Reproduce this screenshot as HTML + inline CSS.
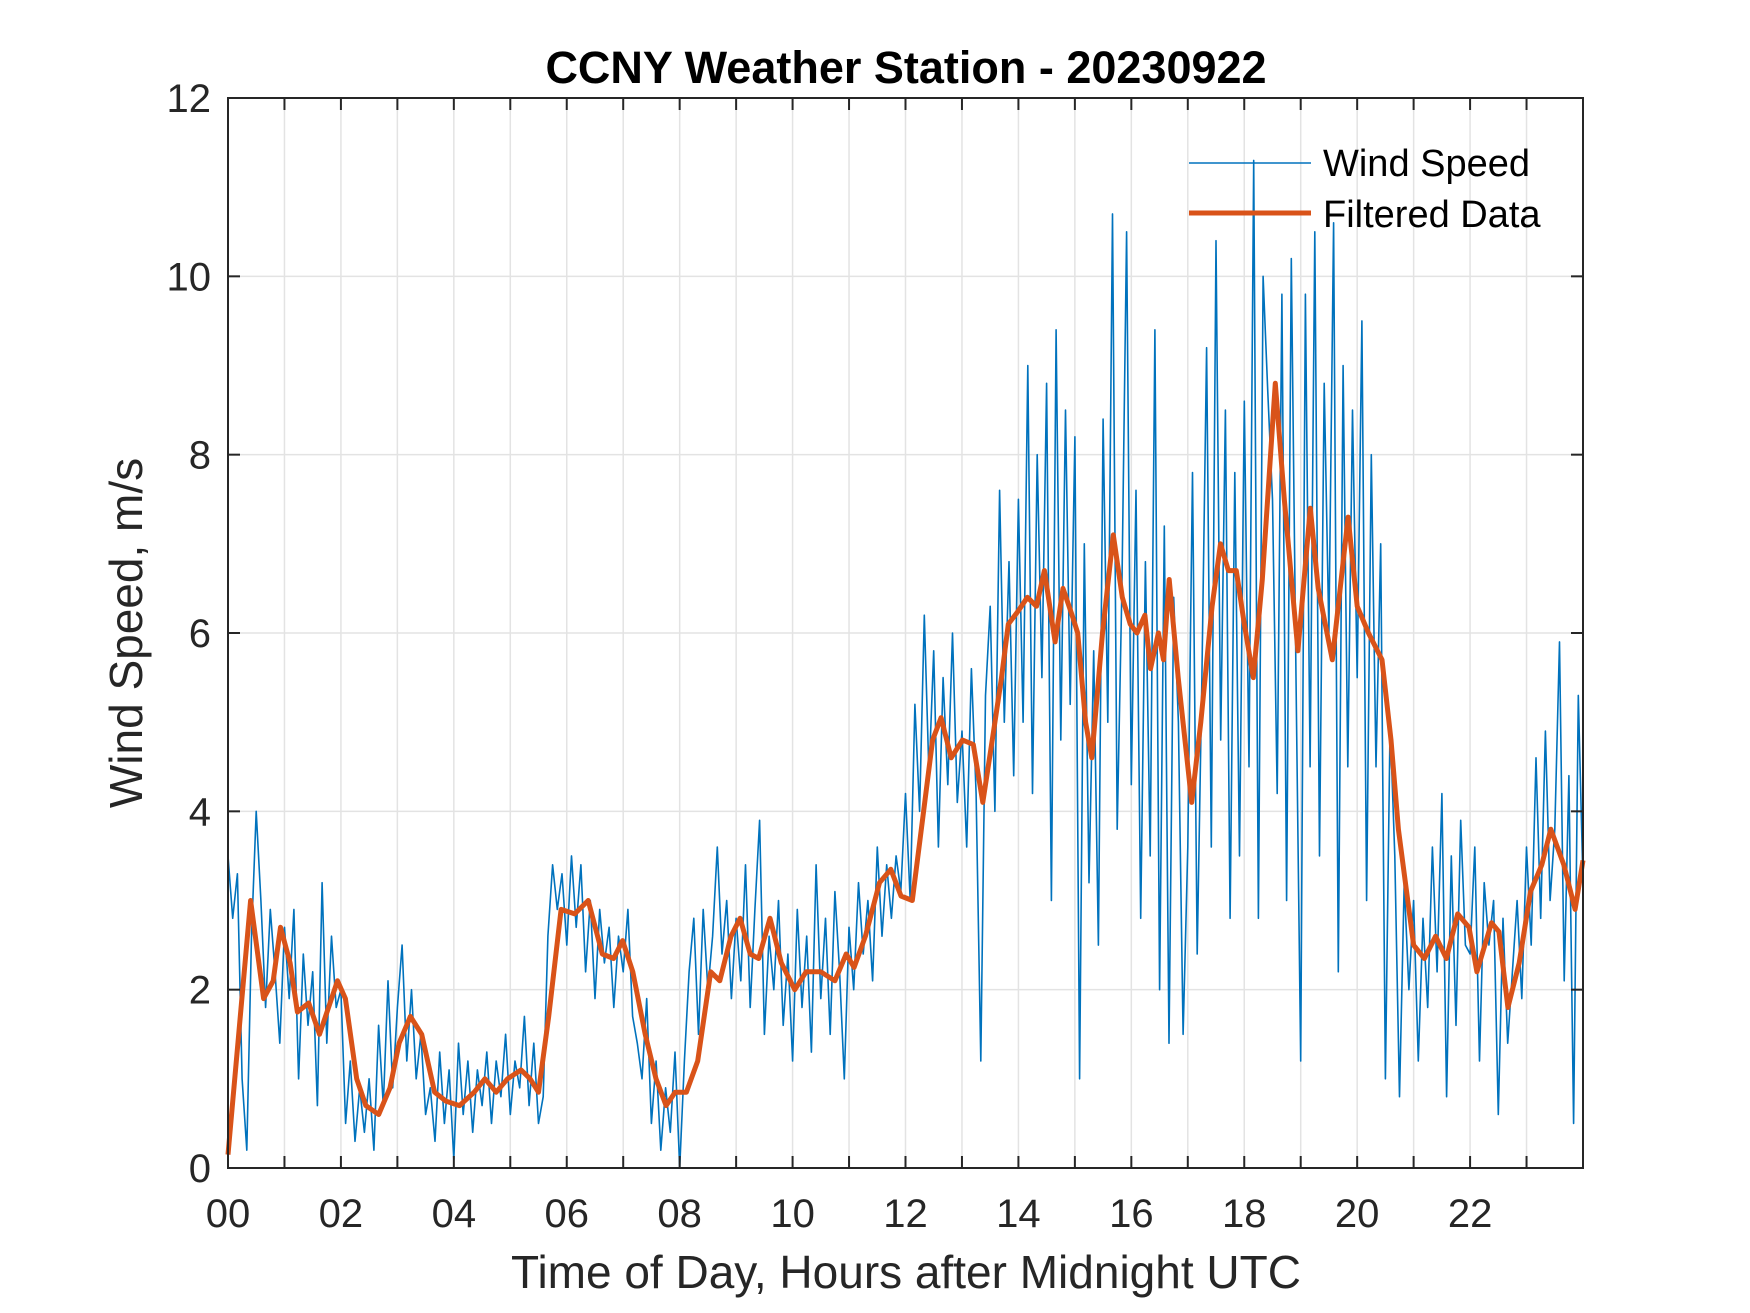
<!DOCTYPE html>
<html><head><meta charset="utf-8"><style>
html,body{margin:0;padding:0;background:#fff;}
svg{display:block;font-family:"Liberation Sans",Arial,sans-serif;}
</style></head><body>
<svg id="chart" width="1750" height="1313" viewBox="0 0 1750 1313" xmlns="http://www.w3.org/2000/svg">
<rect width="1750" height="1313" fill="#fff"/>
<g id="grid"></g>
<g id="plot"></g>
<rect x="228" y="98" width="1355" height="1070" fill="none" stroke="#262626" stroke-width="2"/>
<g id="ticks"></g>
<text x="906" y="83" text-anchor="middle" font-size="45" font-weight="bold" fill="#000">CCNY Weather Station - 20230922</text>
<text x="906" y="1288" text-anchor="middle" font-size="46" fill="#262626">Time of Day, Hours after Midnight UTC</text>
<text transform="translate(142,633) rotate(-90)" text-anchor="middle" font-size="46" fill="#262626">Wind Speed, m/s</text>
<g>
<line x1="1189" y1="163" x2="1311" y2="163" stroke="#0072BD" stroke-width="1.6"/>
<text x="1323" y="176" font-size="38" fill="#000">Wind Speed</text>
<line x1="1189" y1="213" x2="1311" y2="213" stroke="#D95319" stroke-width="5"/>
<text x="1323" y="227" font-size="38" fill="#000">Filtered Data</text>
</g>
</svg>
<script>
const xTickLabels = ["00","02","04","06","08","10","12","14","16","18","20","22"];
const yTickValues = [0,2,4,6,8,10,12];
// raw wind speed, sampled every 5 minutes (12 per hour), plus final value at 24h
const windSpeed = [
3.5,2.8,3.3,1.0,0.2,2.6,4.0,3.0,1.8,2.9,2.2,1.4,
2.7,1.9,2.9,1.0,2.4,1.6,2.2,0.7,3.2,1.4,2.6,1.8,
2.0,0.5,1.2,0.3,0.9,0.4,1.0,0.2,1.6,0.7,2.1,0.9,
1.8,2.5,1.2,2.0,1.0,1.5,0.6,0.9,0.3,1.3,0.5,1.1,
0.1,1.4,0.6,1.2,0.4,1.1,0.7,1.3,0.5,1.2,0.8,1.5,
0.6,1.2,0.9,1.7,0.7,1.4,0.5,0.8,2.6,3.4,2.9,3.3,
2.5,3.5,2.7,3.4,2.2,3.0,1.9,2.9,2.3,2.7,1.8,2.6,
2.2,2.9,1.7,1.4,1.0,1.9,0.5,1.2,0.2,0.9,0.4,1.3,
0.0,1.2,2.2,2.8,1.5,2.9,2.0,2.6,3.6,2.4,3.0,1.9,
2.8,2.1,3.4,1.8,2.9,3.9,1.5,2.6,2.0,3.0,1.6,2.4,
1.2,2.9,1.8,2.6,1.3,3.4,1.9,2.8,1.5,3.1,2.2,1.0,
2.7,2.0,3.2,2.4,3.0,2.1,3.6,2.6,3.4,2.8,3.5,3.1,
4.2,3.0,5.2,4.0,6.2,4.4,5.8,3.6,5.5,4.3,6.0,4.1,
4.9,3.6,5.6,4.2,1.2,5.3,6.3,4.0,7.6,5.0,6.8,4.4,
7.5,5.0,9.0,4.2,8.0,5.5,8.8,3.0,9.4,4.8,8.5,5.2,
8.2,1.0,7.0,3.2,5.8,2.5,8.4,5.0,10.7,3.8,6.5,10.5,
4.3,7.6,2.8,6.8,3.5,9.4,2.0,7.2,1.4,6.4,5.0,1.5,
3.6,7.8,2.4,5.5,9.2,3.6,10.4,4.8,8.5,2.8,7.8,3.5,
8.6,4.5,11.3,2.8,10.0,8.7,7.5,4.2,9.8,3.0,10.2,5.5,
1.2,9.8,4.5,10.5,3.5,8.8,6.0,10.6,2.2,9.0,4.5,8.5,
5.5,9.5,3.0,8.0,4.5,7.0,1.0,5.0,3.5,0.8,3.2,2.0,
3.0,1.2,2.8,1.8,3.6,2.2,4.2,0.8,3.5,1.6,3.9,2.5,
2.4,3.6,1.2,3.2,2.5,3.0,0.6,2.8,1.4,2.2,3.0,1.9,
3.6,2.5,4.6,2.8,4.9,3.0,3.8,5.9,2.1,4.4,0.5,5.3,
3.2];
const filteredHours = [0,0.4,0.63,0.8,0.93,1.1,1.23,1.43,1.62,1.94,2.08,2.28,2.44,2.67,2.87,3.03,3.23,3.43,3.66,3.86,4.1,4.36,4.55,4.75,4.95,5.19,5.35,5.5,5.68,5.9,6.14,6.38,6.63,6.83,6.99,7.17,7.39,7.58,7.76,7.92,8.12,8.32,8.55,8.71,8.91,9.07,9.25,9.4,9.6,9.8,10.04,10.24,10.5,10.75,10.95,11.09,11.29,11.54,11.74,11.92,12.12,12.32,12.48,12.63,12.81,13.01,13.2,13.37,13.56,13.7,13.82,14.0,14.16,14.32,14.46,14.65,14.79,14.95,15.05,15.19,15.3,15.49,15.68,15.84,15.98,16.1,16.24,16.34,16.48,16.57,16.67,16.83,17.07,17.23,17.43,17.58,17.72,17.86,18.0,18.16,18.32,18.55,18.71,18.95,19.17,19.31,19.56,19.84,20.0,20.2,20.44,20.6,20.73,21.0,21.19,21.39,21.58,21.78,21.98,22.12,22.38,22.51,22.67,22.87,23.07,23.27,23.43,23.66,23.86,24.0];
const filteredValues = [0.15,3.0,1.9,2.1,2.7,2.3,1.75,1.85,1.5,2.1,1.9,1.0,0.7,0.6,0.9,1.4,1.7,1.5,0.85,0.75,0.7,0.85,1.0,0.85,1.0,1.1,1.0,0.85,1.7,2.9,2.85,3.0,2.4,2.35,2.55,2.2,1.5,1.0,0.7,0.85,0.85,1.2,2.2,2.1,2.6,2.8,2.4,2.35,2.8,2.3,2.0,2.2,2.2,2.1,2.4,2.25,2.6,3.2,3.35,3.05,3.0,4.0,4.8,5.05,4.6,4.8,4.75,4.1,4.9,5.5,6.1,6.25,6.4,6.3,6.7,5.9,6.5,6.2,6.0,5.0,4.6,6.0,7.1,6.4,6.1,6.0,6.2,5.6,6.0,5.7,6.6,5.5,4.1,5.0,6.3,7.0,6.7,6.7,6.1,5.5,6.6,8.8,7.5,5.8,7.4,6.5,5.7,7.3,6.3,6.0,5.7,4.8,3.8,2.5,2.35,2.6,2.35,2.85,2.7,2.2,2.75,2.65,1.8,2.3,3.1,3.4,3.8,3.4,2.9,3.45];

const X0=228, X1=1583, Y0=1168, Y1=98;
const xScale = h => X0 + (X1-X0)*h/24;
const yScale = v => Y0 - (Y0-Y1)*v/12;
const NS="http://www.w3.org/2000/svg";
function mk(tag, attrs, parent){const e=document.createElementNS(NS,tag);for(const k in attrs)e.setAttribute(k,attrs[k]);parent.appendChild(e);return e;}
const grid=document.getElementById('grid'), plot=document.getElementById('plot'), ticks=document.getElementById('ticks');
for(let h=1;h<24;h++){
  const x=xScale(h);
  const g=mk('line',{x1:x,y1:Y1,x2:x,y2:Y0,stroke:'#e3e3e3','stroke-width':1.5},grid);
  
  
}
for(let h=0;h<=24;h++){
  const x=xScale(h);
  const t1=mk('line',{x1:x,y1:Y1,x2:x,y2:Y1+12,stroke:'#262626','stroke-width':2},ticks);
  
  
  const t2=mk('line',{x1:x,y1:Y0,x2:x,y2:Y0-12,stroke:'#262626','stroke-width':2},ticks);
  
  
}
xTickLabels.forEach((lab,i)=>{
  const t=mk('text',{x:xScale(i*2),y:1227,'text-anchor':'middle','font-size':40,fill:'#262626'},ticks);
  t.textContent=lab;
  
  
});
yTickValues.forEach(v=>{
  const y=yScale(v);
  if(v>0&&v<12){
    const g=mk('line',{x1:X0,y1:y,x2:X1,y2:y,stroke:'#e3e3e3','stroke-width':1.5},grid);
    
    
  }
  const a=mk('line',{x1:X0,y1:y,x2:X0+12,y2:y,stroke:'#262626','stroke-width':2},ticks);
  
  
  const b=mk('line',{x1:X1,y1:y,x2:X1-12,y2:y,stroke:'#262626','stroke-width':2},ticks);
  
  
  const t=mk('text',{x:211,y:y+14,'text-anchor':'end','font-size':40,fill:'#262626'},ticks);
  t.textContent=String(v);
  
  
});
const n=windSpeed.length;
const rawPts=windSpeed.map((v,i)=>xScale(24*i/(n-1)).toFixed(1)+','+yScale(v).toFixed(1)).join(' ');
const raw=mk('polyline',{points:rawPts,fill:'none',stroke:'#0072BD','stroke-width':1.6,'stroke-linejoin':'round'},plot);


const fPts=filteredValues.map((v,i)=>xScale(filteredHours[i]).toFixed(1)+','+yScale(v).toFixed(1)).join(' ');
const fl=mk('polyline',{points:fPts,fill:'none',stroke:'#D95319','stroke-width':5,'stroke-linejoin':'round'},plot);


</script>
</body></html>
